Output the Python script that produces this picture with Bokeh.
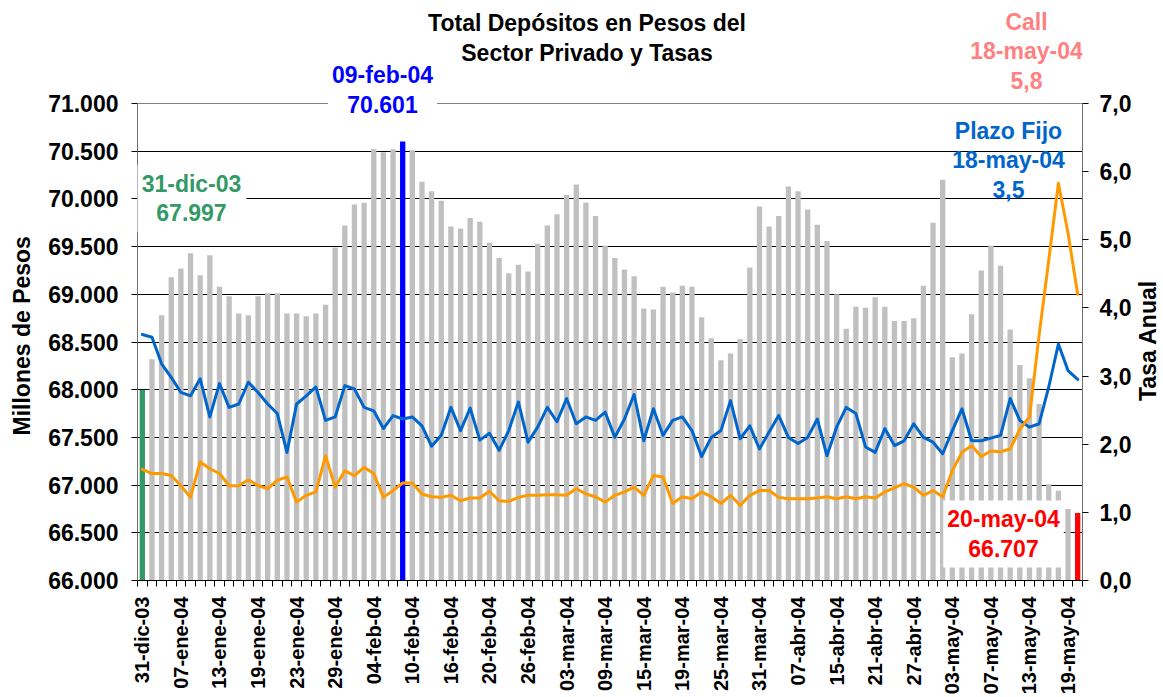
import math
from bokeh.plotting import figure
from bokeh.models import Range1d, LinearAxis, FixedTicker, Label, Span, Title
from bokeh.embed import file_html
from bokeh.resources import INLINE

# ---------------- data ----------------
fechas = [
    "31-dic-03",
    "02-ene-04", "05-ene-04", "06-ene-04", "07-ene-04", "08-ene-04", "09-ene-04", "12-ene-04",
    "13-ene-04", "14-ene-04", "15-ene-04", "16-ene-04", "19-ene-04", "20-ene-04", "21-ene-04",
    "22-ene-04", "23-ene-04", "26-ene-04", "27-ene-04", "28-ene-04", "29-ene-04", "30-ene-04",
    "02-feb-04", "03-feb-04", "04-feb-04", "05-feb-04", "06-feb-04", "09-feb-04", "10-feb-04",
    "11-feb-04", "12-feb-04", "13-feb-04", "16-feb-04", "17-feb-04", "18-feb-04", "19-feb-04",
    "20-feb-04", "23-feb-04", "24-feb-04", "25-feb-04", "26-feb-04", "27-feb-04",
    "01-mar-04", "02-mar-04", "03-mar-04", "04-mar-04", "05-mar-04", "08-mar-04", "09-mar-04",
    "10-mar-04", "11-mar-04", "12-mar-04", "15-mar-04", "16-mar-04", "17-mar-04", "18-mar-04",
    "19-mar-04", "22-mar-04", "23-mar-04", "24-mar-04", "25-mar-04", "26-mar-04", "29-mar-04",
    "30-mar-04", "31-mar-04",
    "01-abr-04", "05-abr-04", "06-abr-04", "07-abr-04", "12-abr-04", "13-abr-04", "14-abr-04",
    "15-abr-04", "16-abr-04", "19-abr-04", "20-abr-04", "21-abr-04", "22-abr-04", "23-abr-04",
    "26-abr-04", "27-abr-04", "28-abr-04", "29-abr-04", "30-abr-04",
    "03-may-04", "04-may-04", "05-may-04", "06-may-04", "07-may-04", "10-may-04", "11-may-04",
    "12-may-04", "13-may-04", "14-may-04", "17-may-04", "18-may-04", "19-may-04", "20-may-04",
]

# Total depositos en pesos del sector privado (millones)
depositos = [
    67997,
    68320, 68780, 69180, 69270, 69430, 69200, 69410, 69080, 68980, 68800,
    68780, 68980, 69010, 69010, 68800, 68800, 68770, 68800, 68890, 69490,
    69720, 69940, 69960, 70520, 70490, 70520, 70601, 70510, 70180, 70080,
    69980, 69710, 69690, 69800, 69760, 69540, 69380, 69220, 69310, 69240,
    69530, 69720, 69840, 70040, 70150, 69960, 69820, 69510, 69380, 69260,
    69190, 68850, 68840, 69080, 69020, 69090, 69080, 68760, 68540, 68310,
    68380, 68530, 69280, 69920, 69710, 69820, 70130, 70080, 69890, 69730,
    69560, 69000, 68640, 68870, 68860, 68970, 68870, 68720, 68720, 68750,
    69090, 69750, 70200, 68340, 68380, 68790, 69250, 69510, 69300, 68630,
    68260, 68120, 67850, 67010, 66940, 66750, 66707,
]

# Tasa Plazo Fijo (% anual)
plazo_fijo = [
    3.61, 3.57, 3.18, 2.98, 2.76, 2.71, 2.96, 2.40, 2.89, 2.54,
    2.59, 2.91, 2.76, 2.59, 2.45, 1.88, 2.59, 2.71, 2.84, 2.35,
    2.40, 2.86, 2.81, 2.54, 2.49, 2.23, 2.42, 2.37, 2.40, 2.27,
    1.97, 2.13, 2.54, 2.20, 2.53, 2.06, 2.16, 1.91, 2.20, 2.62,
    2.03, 2.25, 2.54, 2.33, 2.67, 2.30, 2.40, 2.35, 2.47, 2.10,
    2.37, 2.73, 2.05, 2.52, 2.13, 2.35, 2.40, 2.20, 1.82, 2.10,
    2.20, 2.64, 2.08, 2.27, 1.93, 2.18, 2.42, 2.10, 2.01, 2.10,
    2.37, 1.83, 2.25, 2.54, 2.45, 1.96, 1.88, 2.23, 1.98, 2.05,
    2.30, 2.10, 2.03, 1.86, 2.20, 2.52, 2.05, 2.05, 2.09, 2.13,
    2.67, 2.35, 2.25, 2.30, 2.84, 3.47, 3.08, 2.95,
]

# Tasa Call (% anual)
call = [
    1.63, 1.57, 1.57, 1.54, 1.39, 1.22, 1.74, 1.64, 1.57, 1.39,
    1.39, 1.48, 1.39, 1.35, 1.47, 1.52, 1.15, 1.25, 1.30, 1.83,
    1.37, 1.61, 1.54, 1.66, 1.57, 1.22, 1.32, 1.43, 1.43, 1.27,
    1.23, 1.22, 1.25, 1.17, 1.21, 1.21, 1.31, 1.17, 1.16, 1.22,
    1.25, 1.25, 1.26, 1.26, 1.25, 1.35, 1.27, 1.23, 1.15, 1.25,
    1.30, 1.37, 1.25, 1.54, 1.52, 1.13, 1.23, 1.20, 1.30, 1.23,
    1.13, 1.25, 1.10, 1.25, 1.32, 1.32, 1.22, 1.20, 1.20, 1.20,
    1.21, 1.23, 1.20, 1.23, 1.20, 1.23, 1.21, 1.30, 1.36, 1.42,
    1.37, 1.25, 1.32, 1.23, 1.61, 1.88, 1.98, 1.82, 1.90, 1.89,
    1.93, 2.22, 2.40, 3.60, 4.70, 5.83, 5.10, 4.20,
]

left_ticks = [66000, 66500, 67000, 67500, 68000, 68500, 69000, 69500, 70000, 70500, 71000]
left_tick_labels = ["66.000", "66.500", "67.000", "67.500", "68.000", "68.500",
                    "69.000", "69.500", "70.000", "70.500", "71.000"]
right_ticks = [0, 1, 2, 3, 4, 5, 6, 7]
right_tick_labels = ["0,0", "1,0", "2,0", "3,0", "4,0", "5,0", "6,0", "7,0"]

titulo = "Total Depósitos en Pesos del\nSector Privado y Tasas"
eje_izq = "Millones de Pesos"
eje_der = "Tasa Anual"
lbl_inicio = "31-dic-03\n67.997"
lbl_max = "09-feb-04\n70.601"
lbl_fin = "20-may-04\n66.707"
lbl_pf = "Plazo Fijo\n18-may-04\n3,5"
lbl_call = "Call\n18-may-04\n5,8"

# ---------------- style / layout ----------------
FONT = "Liberation Sans"
FS = "23px"
GRAY = "#C0C0C0"
GREEN = "#339966"
BLUE_BAR = "#0000FF"
RED = "#FF0000"
PF_COLOR = "#0066CC"
CALL_COLOR = "#FF9900"
CALL_LBL = "#FF8080"
AXIS_GRAY = "#707070"

W, H = 1163, 697
LEFT, RIGHT, BOTTOM = 134, 81, 117        # borders (px)
AREA_TOP = 103                           # top of the value area (px from canvas top)
frame_h = H - BOTTOM                     # plot frame reaches the canvas top
area_h = frame_h - AREA_TOP
yl0, yl1 = left_ticks[0], left_ticks[-1]
yr0, yr1 = right_ticks[0], right_ticks[-1]
yl_top = yl1 + (yl1 - yl0) * AREA_TOP / area_h
yr_top = yr1 + (yr1 - yr0) * AREA_TOP / area_h

n = len(fechas)
xs = [i + 0.5 for i in range(n)]
i_ini = 0
i_max = fechas.index("09-feb-04")
i_fin = n - 1
bar_colors = [GRAY] * n
bar_colors[i_ini] = GREEN
bar_colors[i_max] = BLUE_BAR
bar_colors[i_fin] = RED

p = figure(width=W, height=H, output_backend="svg", toolbar_location=None,
           x_range=Range1d(0, n), y_range=Range1d(yl0, yl_top),
           min_border_left=LEFT, min_border_right=RIGHT, min_border_top=0,
           min_border_bottom=BOTTOM)
p.extra_y_ranges = {"tasa": Range1d(yr0, yr_top)}
p.background_fill_color = "white"
p.border_fill_color = "white"
p.outline_line_color = None

# grid
p.xgrid.visible = False
p.ygrid.ticker = FixedTicker(ticks=left_ticks[1:-1])
p.ygrid.grid_line_color = "black"
p.ygrid.grid_line_width = 1
p.add_layout(Span(location=yl1, dimension="width", line_color="#808080", line_width=1))

# bars
p.vbar(x=xs, top=depositos, bottom=yl0, width=0.55, fill_color=bar_colors, line_color=None)

# lines
p.line(xs, plazo_fijo, y_range_name="tasa", line_color=PF_COLOR, line_width=3,
       line_join="round", line_cap="round")
p.line(xs, call, y_range_name="tasa", line_color=CALL_COLOR, line_width=3,
       line_join="round", line_cap="round")

# left axis
ya = p.yaxis[0]
ya.bounds = (yl0, yl1)
ya.ticker = FixedTicker(ticks=left_ticks)
ya.major_label_overrides = dict(zip(left_ticks, left_tick_labels))
ya.major_label_text_font = FONT
ya.major_label_text_font_size = FS
ya.major_label_text_font_style = "bold"
ya.major_label_text_color = "black"
ya.major_label_standoff = 13
ya.major_tick_out = 6
ya.major_tick_in = 0
ya.minor_tick_out = 0
ya.minor_tick_in = 0
ya.major_tick_line_color = "black"
ya.axis_line_color = AXIS_GRAY

# left axis title (positioned along the value area, not the whole frame)
p.add_layout(Title(text=eje_izq, align="left", offset=145, vertical_align="top", standoff=17,
                   text_font=FONT, text_font_size=FS, text_font_style="bold",
                   text_color="black"), "left")

# right axis
ra = LinearAxis(y_range_name="tasa", ticker=FixedTicker(ticks=right_ticks), bounds=(yr0, yr1))
ra.major_label_overrides = dict(zip(right_ticks, right_tick_labels))
ra.major_label_text_font = FONT
ra.major_label_text_font_size = FS
ra.major_label_text_font_style = "bold"
ra.major_label_text_color = "black"
ra.major_label_standoff = 11
ra.major_tick_out = 6
ra.major_tick_in = 0
ra.minor_tick_out = 0
ra.minor_tick_in = 0
ra.major_tick_line_color = "black"
ra.axis_line_color = AXIS_GRAY
p.add_layout(ra, "right")

# right axis title, reading bottom-to-top
p.add_layout(Label(x=13, y=240, x_units="screen", y_units="screen", text=eje_der,
                   angle=math.pi / 2, text_align="center", text_baseline="middle",
                   text_font=FONT, text_font_size=FS, text_font_style="bold",
                   text_color="black"), "right")

# bottom axis: labels every 4th day, minor ticks at every category boundary
label_idx = list(range(0, n, 4))
xa = p.xaxis[0]
xa.ticker = FixedTicker(ticks=[xs[i] for i in label_idx], minor_ticks=list(range(n + 1)))
xa.major_label_overrides = {xs[i]: fechas[i] for i in label_idx}
xa.major_label_orientation = math.pi / 2
xa.major_label_text_font = FONT
xa.major_label_text_font_size = "20px"
xa.major_label_text_font_style = "bold"
xa.major_label_text_color = "black"
xa.major_label_standoff = 10
xa.major_tick_out = 0
xa.major_tick_in = 0
xa.minor_tick_out = 6
xa.minor_tick_in = 0
xa.minor_tick_line_color = "black"
xa.axis_line_color = "black"

# text annotations: x from plot-area left edge, y up from plot-area bottom edge (px)
def add_label(text, x, y, color, bg=None, pad=(4, 6)):
    kw = dict(x=x, y=y, x_units="screen", y_units="screen", text=text,
              text_align="center", text_baseline="middle",
              text_font=FONT, text_font_size=FS, text_font_style="bold",
              text_color=color, text_line_height=1.12)
    if bg is not None:
        kw.update(background_fill_color=bg, padding=pad)
    p.add_layout(Label(**kw))

add_label(titulo, 449.5, 542.5, "black")
add_label(lbl_max, 245, 490.5, BLUE_BAR, bg="white", pad=(4, 6))
add_label(lbl_call, 889, 529, CALL_LBL)
add_label(lbl_inicio, 54, 382, GREEN, bg="white", pad=(5, 6))
add_label(lbl_pf, 871, 420, PF_COLOR)
add_label(lbl_fin, 866, 46.5, RED, bg="white", pad=(4, 6))

open("out.html", "w").write(file_html(p, INLINE))
